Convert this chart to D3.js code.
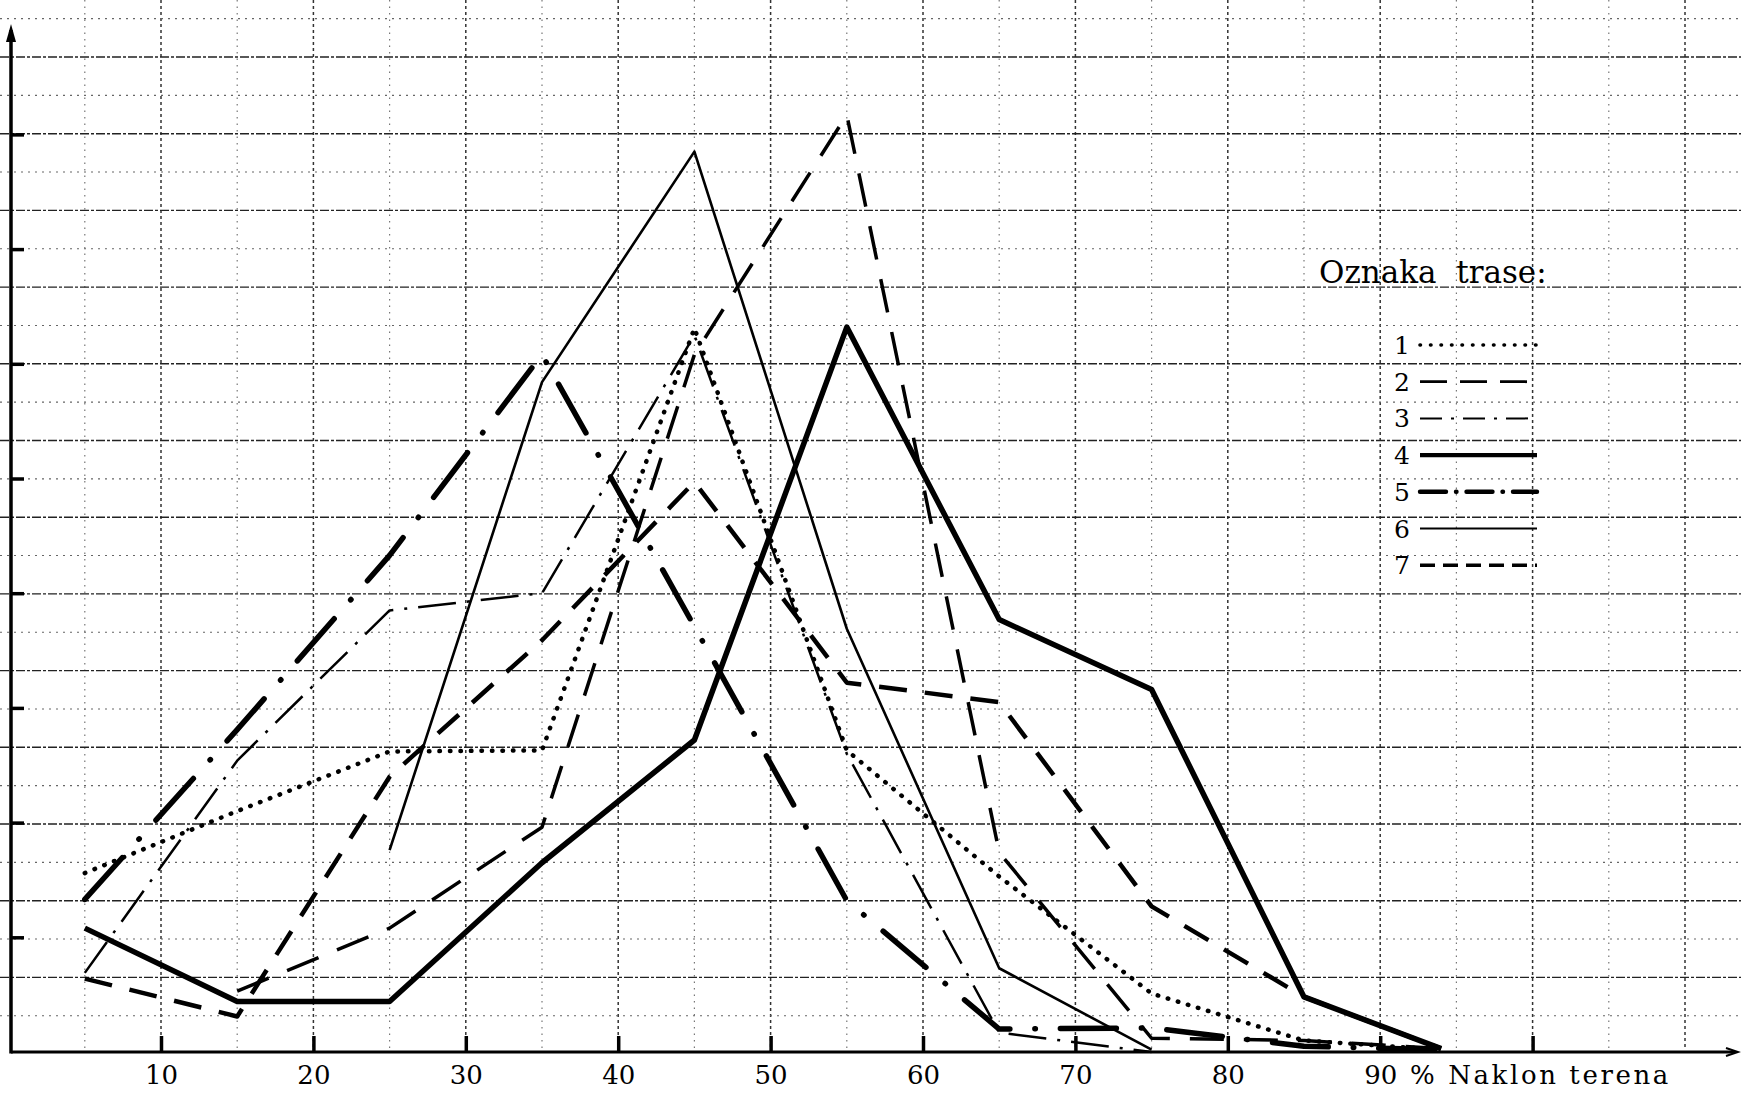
<!DOCTYPE html>
<html>
<head>
<meta charset="utf-8">
<script src="https://cdn.jsdelivr.net/npm/d3@7"></script>
<style>
  html, body { margin: 0; padding: 0; background: #fff; }
  svg { display: block; }
</style>
</head>
<body>
<svg id="chart" width="1741" height="1093"></svg>
<script>
// Naklon terena (%) - sredine razreda
const classMid = [5, 15, 25, 35, 45, 55, 65, 75, 85, 94];
const xTicks = [10, 20, 30, 40, 50, 60, 70, 80, 90, 100];
const xTickLabels = ['10', '20', '30', '40', '50', '60', '70', '80', '90', ''];
const yTicks = [1, 2, 3, 4, 5, 6, 7, 8];

// udjeli po trasama (null = nema tocke)
const trasa1 = [1.56, 2.10, 2.62, 2.63, 6.31, 2.63, 1.53, 0.51, 0.10, 0.02];
const trasa2 = [null, 0.53, 1.08, 1.96, 6.08, 8.17, 1.74, 0.12, 0.10, 0.03];
const trasa3 = [0.69, 2.54, 3.85, 4.00, 6.25, 2.60, 0.17, 0.00, null, null];
const trasa4 = [1.08, 0.44, 0.44, 1.65, 2.72, 6.32, 3.77, 3.16, 0.48, 0.03];
const trasa5 = [1.33, 2.81, 4.33, 6.08, 3.71, 1.32, 0.20, 0.21, 0.05, 0.02];
const trasa6 = [null, null, 1.76, 5.84, 7.85, 3.69, 0.73, 0.02, null, null];
const trasa7 = [0.64, 0.31, 2.40, 3.59, 4.97, 3.22, 3.05, 1.27, 0.48, 0.03];
const traseLabels = ['1', '2', '3', '4', '5', '6', '7'];

const series = [trasa1, trasa2, trasa3, trasa4, trasa5, trasa6, trasa7];

// line styles: width, dasharray in chart, dasharray in legend, linecap
const styles = [
  {w: 4.5, dash: '0.5,10', leg: '0.5,10', cap: 'round'},
  {w: 3.5, dash: '34,20', leg: '27,13', cap: 'butt'},
  {w: 2.5, dash: '38,11,3,11', leg: '22,9,3,9', cap: 'butt'},
  {w: 5.5, dash: null, leg: null, cap: 'butt'},
  {w: 5.5, dash: '56,25,0.5,25', leg: '26,10,0.5,10', cap: 'round'},
  {w: 2.6, dash: null, leg: null, cap: 'butt'},
  {w: 4.5, dash: '28,18', leg: '15,8', cap: 'butt'}
];

const W = 1741, H = 1093;
const svg = d3.select('#chart');
const x = d3.scaleLinear().domain([0, 100]).range([8.6, 1532.6]);
const y = d3.scaleLinear().domain([0, 9]).range([1052, 1052 - 9 * 114.7]);

// graph paper
const paper = svg.append('g');
const vLines = d3.range(5, 114, 5);
paper.selectAll('line.v').data(vLines).enter().append('line')
  .attr('x1', d => x(d)).attr('x2', d => x(d))
  .attr('y1', 0).attr('y2', 1048)
  .attr('stroke', d => d % 10 === 0 ? '#333' : '#777')
  .attr('stroke-width', d => d % 10 === 0 ? 1.5 : 1.2)
  .attr('stroke-dasharray', d => d % 10 === 0 ? '3,3' : '1.5,5');
const hLines = d3.range(-1, 26).map(k => ({k, y: 57 + 38.35 * k})).filter(d => d.y < 1048);
paper.selectAll('line.h').data(hLines).enter().append('line')
  .attr('x1', 0).attr('x2', W)
  .attr('y1', d => d.y).attr('y2', d => d.y)
  .attr('stroke', d => d.k % 2 === 0 ? '#222' : '#666')
  .attr('stroke-width', d => d.k % 2 === 0 ? 1.4 : 1.1)
  .attr('stroke-dasharray', d => d.k % 2 === 0 ? '9,2,3,2' : '2,5');

// axes
const x0 = 11, yBase = y(0);
svg.append('line').attr('x1', x0).attr('x2', 1735).attr('y1', yBase).attr('y2', yBase)
  .attr('stroke', '#000').attr('stroke-width', 3);
svg.append('line').attr('x1', x0).attr('x2', x0).attr('y1', yBase + 1.5).attr('y2', 30)
  .attr('stroke', '#000').attr('stroke-width', 3.5);
svg.append('path').attr('d', `M${x0 - 5},42 L${x0},24 L${x0 + 5},42 Z`).attr('fill', '#000');
svg.append('path').attr('d', `M1726,${yBase - 4} L1738,${yBase} L1726,${yBase + 4}`)
  .attr('fill', 'none').attr('stroke', '#000').attr('stroke-width', 2);

const xAxis = svg.append('g').attr('transform', `translate(0,${yBase})`)
  .call(d3.axisBottom(x).tickValues(xTicks).tickSizeInner(-16).tickSizeOuter(0)
    .tickPadding(18).tickFormat((d, i) => xTickLabels[i]));
xAxis.select('.domain').remove();
xAxis.selectAll('.tick line').attr('stroke', '#000').attr('stroke-width', 3.5);
xAxis.selectAll('.tick text').attr('fill', '#000')
  .attr('font-family', 'DejaVu Serif').attr('font-size', 26).attr('dy', null).attr('y', 32);

const yAxis = svg.append('g').attr('transform', `translate(${x0},0)`)
  .call(d3.axisRight(y).tickValues(yTicks).tickSizeInner(13).tickSizeOuter(0).tickFormat(''));
yAxis.select('.domain').remove();
yAxis.selectAll('.tick line').attr('stroke', '#000').attr('stroke-width', 3.5);

svg.append('text').attr('x', 1410).attr('y', yBase + 32)
  .attr('font-family', 'DejaVu Serif').attr('font-size', 26).attr('letter-spacing', 2.6)
  .attr('fill', '#000').text('% Naklon terena');

// series
const line = d3.line()
  .defined(d => d.v !== null)
  .x(d => x(d.x)).y(d => y(d.v));

series.forEach((vals, i) => {
  const st = styles[i];
  const pts = vals.map((v, j) => ({x: classMid[j], v}));
  svg.append('path').datum(pts)
    .attr('d', line)
    .attr('fill', 'none').attr('stroke', '#000')
    .attr('stroke-width', st.w)
    .attr('stroke-linejoin', 'round')
    .attr('stroke-linecap', st.cap)
    .attr('stroke-dasharray', st.dash);
});

// legend
const leg = svg.append('g');
leg.append('text').attr('x', 1319).attr('y', 283)
  .attr('font-family', 'DejaVu Serif').attr('font-size', 31).attr('fill', '#000')
  .style('white-space', 'pre').text('Oznaka  trase:');
traseLabels.forEach((lab, i) => {
  const ly = 345 + 36.7 * i;
  const st = styles[i];
  leg.append('text').attr('x', 1394).attr('y', ly + 9)
    .attr('font-family', 'DejaVu Serif').attr('font-size', 25).attr('fill', '#000').text(lab);
  leg.append('line').attr('x1', 1420).attr('x2', 1537).attr('y1', ly).attr('y2', ly)
    .attr('stroke', '#000').attr('stroke-width', st.w * 0.8)
    .attr('stroke-linecap', st.cap)
    .attr('stroke-dasharray', st.leg);
});
</script>
</body>
</html>
